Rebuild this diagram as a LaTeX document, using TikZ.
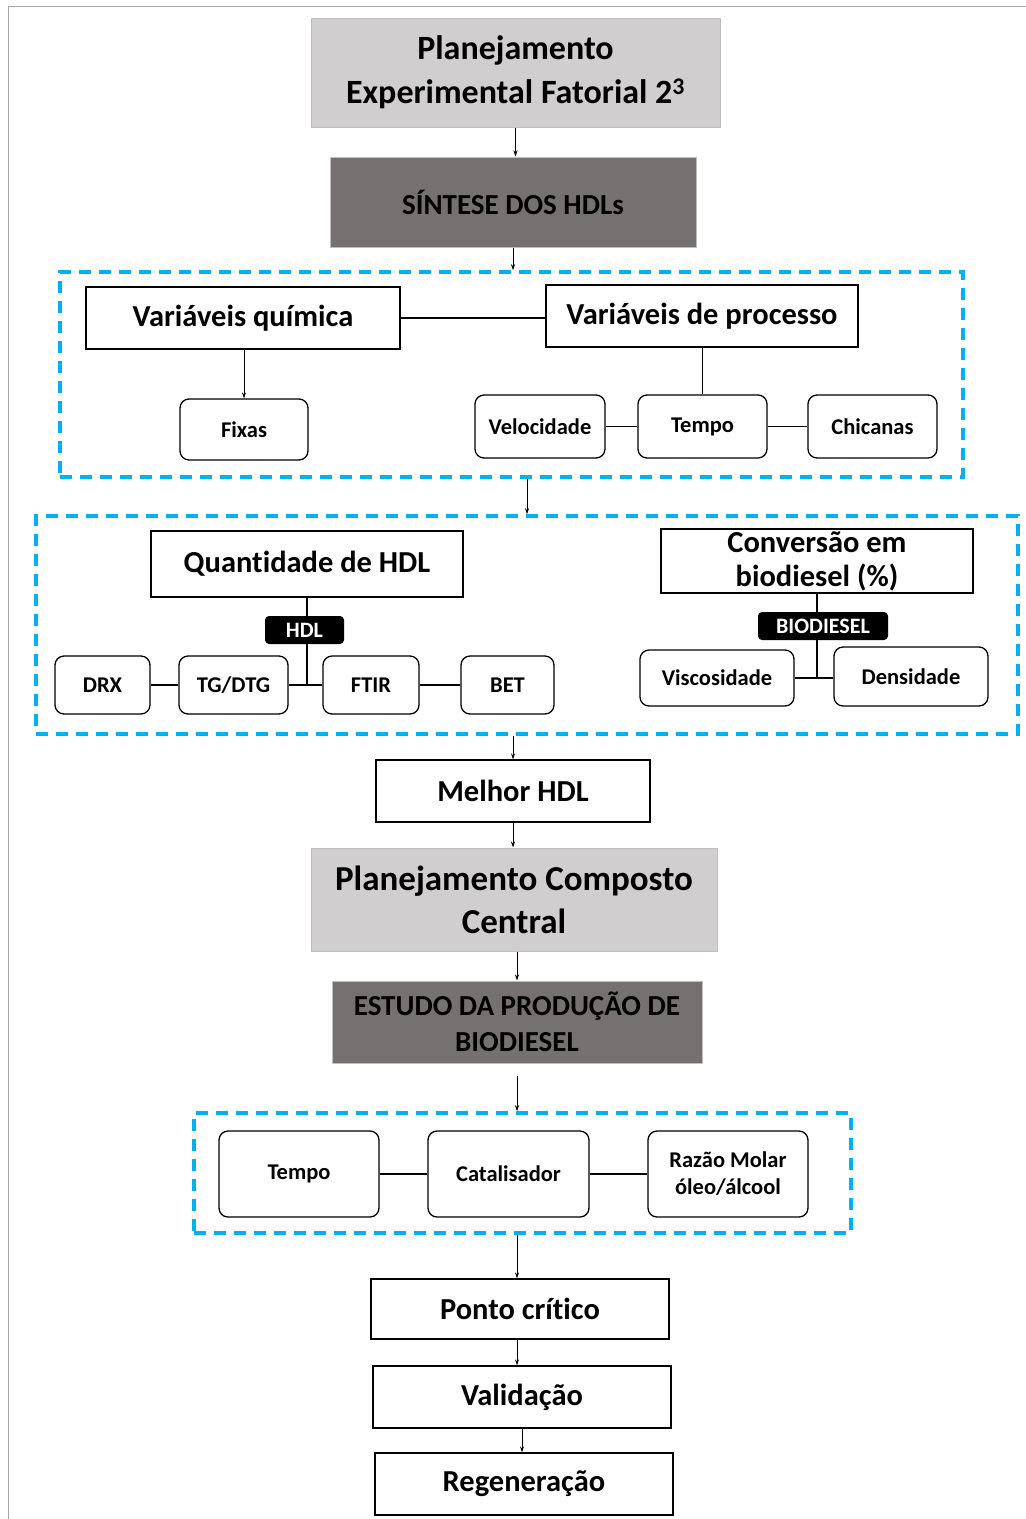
\documentclass[tikz,border=0pt]{standalone}
\usepackage{fontspec}
\setmainfont{Carlito}[Ligatures=NoCommon]
\usetikzlibrary{arrows.meta}
\definecolor{lightbox}{HTML}{D0CECE}
\definecolor{lightedge}{HTML}{BFBFBF}
\definecolor{darkbox}{HTML}{767171}
\definecolor{dashblue}{HTML}{00B0F0}
\definecolor{framegray}{HTML}{A6A6A6}
\tikzset{
  titlebox/.style={draw=lightedge, line width=1pt, fill=lightbox, align=center, inner sep=2pt, font=\fontsize{34}{44}\selectfont\bfseries},
  darkhead/.style={draw=lightedge, line width=1pt, fill=darkbox, align=center, inner sep=2pt, font=\fontsize{29}{36}\selectfont\bfseries, text=black},
  plainbox/.style={draw=black, line width=1.3pt, fill=white, align=center, inner sep=2pt, font=\fontsize{30.5}{36}\selectfont\bfseries},
  roundbox/.style={draw=black, line width=1.3pt, fill=white, rounded corners=9pt, align=center, inner sep=2pt, font=\fontsize{22.5}{27}\selectfont\bfseries},
  tagbox/.style={fill=black, rounded corners=4pt, text=white, inner sep=1pt, font=\fontsize{22}{24}\selectfont\bfseries},
  dashframe/.style={draw=dashblue, line width=3.5pt, dash pattern=on 12pt off 8pt, inner sep=0pt},
  arr/.style={draw=black, line width=1pt, -{Stealth[length=6pt,width=4pt]}},
  link/.style={draw=black, line width=1.3pt},
}
\begin{document}
\begin{tikzpicture}[x=1pt,y=-1pt]
\useasboundingbox (0,0) rectangle (1026,1519);
\draw[framegray, line width=1pt] (8,1519) -- (8,6) -- (1026,6);

% dashed frames
\node[dashframe, minimum width=903pt, minimum height=205pt] (D1) at (511.5,374.5) {};
\node[dashframe, minimum width=982pt, minimum height=218pt] (D2) at (527,625) {};
\node[dashframe, minimum width=657pt, minimum height=120pt] (D3) at (522.5,1173) {};

% main column
\node[titlebox, minimum width=409pt, minimum height=109pt] (P1) at (515.5,72.5) {Planejamento\\Experimental Fatorial 2\textsuperscript{3}};
\node[darkhead, minimum width=366pt, minimum height=90pt] (S1) at (513,202) {SÍNTESE DOS HDLs};

\node[plainbox, minimum width=314pt, minimum height=62pt] (VQ) at (243,318) {Variáveis química};
\node[plainbox, minimum width=312pt, minimum height=62pt] (VP) at (702,316) {Variáveis de processo};
\node[roundbox, minimum width=128pt, minimum height=61pt] (FX) at (244,429.5) {Fixas};
\node[roundbox, minimum width=130pt, minimum height=63pt] (VEL) at (540,426.5) {Velocidade};
\node[roundbox, minimum width=129pt, minimum height=63pt] (TP1) at (702.5,426.5) {Tempo};
\node[roundbox, minimum width=129pt, minimum height=63pt] (CH) at (872.5,426.5) {Chicanas};

\node[plainbox, minimum width=312pt, minimum height=66pt] (QH) at (307,564) {Quantidade de HDL};
\node[plainbox, minimum width=312pt, minimum height=64pt, font=\fontsize{30.5}{34}\selectfont\bfseries] (CV) at (817,561) {Conversão em\\biodiesel (\%)};
\node[roundbox, minimum width=95pt, minimum height=58pt] (DRX) at (102.5,685) {DRX};
\node[roundbox, minimum width=109pt, minimum height=58pt] (TG) at (233.5,685) {TG/DTG};
\node[roundbox, minimum width=96pt, minimum height=58pt] (FT) at (371,685) {FTIR};
\node[roundbox, minimum width=93pt, minimum height=58pt] (BET) at (507.5,685) {BET};
\node[roundbox, minimum width=154pt, minimum height=56pt] (VS) at (717,678) {Viscosidade};
\node[roundbox, minimum width=154pt, minimum height=59pt] (DN) at (911,676.5) {Densidade};

\node[plainbox, minimum width=274pt, minimum height=62pt] (MH) at (513,791) {Melhor HDL};
\node[titlebox, minimum width=406pt, minimum height=103pt, font=\fontsize{35}{43}\selectfont\bfseries] (PC) at (514,899.5) {Planejamento Composto\\Central};
\node[darkhead, minimum width=370pt, minimum height=82pt] (ES) at (517,1022) {ESTUDO DA PRODUÇÃO DE\\BIODIESEL};

\node[roundbox, minimum width=160pt, minimum height=86pt] (T2) at (299,1174) {Tempo};
\node[roundbox, minimum width=161pt, minimum height=86pt] (CAT) at (508.5,1174) {Catalisador};
\node[roundbox, minimum width=160pt, minimum height=86pt] (RZ) at (728,1174) {Razão Molar\\óleo/álcool};

\node[plainbox, minimum width=298pt, minimum height=60pt] (PT) at (520,1309) {Ponto crítico};
\node[plainbox, minimum width=298pt, minimum height=62pt] (VA) at (522,1397) {Validação};
\node[plainbox, minimum width=298pt, minimum height=62pt] (RG) at (524,1484) {Regeneração};

% arrows main flow
\draw[arr] (P1.south) -- (P1.south |- S1.north);
\draw[arr] (S1.south) -- (S1.south |- D1.north);
\draw[arr] (D2.north |- D1.south) -- (D2.north);
\draw[arr] (MH.north |- D2.south) -- (MH.north);
\draw[arr] (MH.south) -- (MH.south |- PC.north);
\draw[arr] (ES.north |- PC.south) -- (ES.north);
\draw[arr] ([yshift=-12pt]ES.south) -- (ES.south |- D3.north);
\draw[arr] (ES.south |- D3.south) -- (ES.south |- PT.north);
\draw[arr] (ES.south |- PT.south) -- (ES.south |- VA.north);
\draw[arr] (VA.south) -- (VA.south |- RG.north);

% frame 1 links
\draw[link] (VQ.east) -- (VQ.east -| VP.west);
\draw[arr] (FX.north |- VQ.south) -- (FX.north);
\draw[link] (TP1.north |- VP.south) -- (TP1.north);
\draw[link] (VEL.east) -- (TP1.west);
\draw[link] (TP1.east) -- (CH.west);

% frame 2 links
\draw[link] (QH.south) -- (QH.south |- TG.east);
\draw[link] (DRX.east) -- (TG.west);
\draw[link] (TG.east) -- (FT.west);
\draw[link] (FT.east) -- (BET.west);
\draw[link] (CV.south) -- (CV.south |- VS.east);
\draw[link] (VS.east) -- (VS.east -| DN.west);
\node[tagbox, minimum width=79pt, minimum height=28pt] (HT) at (304.5,630) {HDL};
\node[tagbox, minimum width=130pt, minimum height=28pt] (BT) at (823,626) {BIODIESEL};

% frame 3 links
\draw[link] (T2.east) -- (CAT.west);
\draw[link] (CAT.east) -- (RZ.west);
\end{tikzpicture}
\end{document}
